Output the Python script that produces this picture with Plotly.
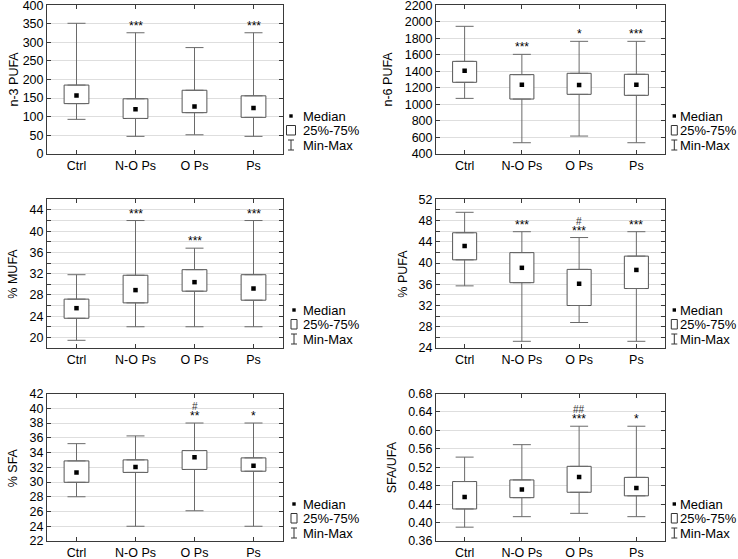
import plotly.graph_objects as go

W, H = 738, 559

categories = ["Ctrl", "N-O Ps", "O Ps", "Ps"]

# n-3 PUFA
n3_min = [92.6, 46.7, 51.0, 46.7]
n3_q1 = [135.0, 95.0, 110.6, 98.0]
n3_med = [157.0, 119.6, 127.0, 123.0]
n3_q3 = [185.0, 148.0, 171.0, 156.0]
n3_max = [351.5, 326.0, 286.0, 326.0]
n3_star = ["", "***", "", "***"]
n3_hash = ["", "", "", ""]

# n-6 PUFA
n6_min = [1071, 533, 614, 533]
n6_q1 = [1266, 1063, 1120, 1108]
n6_med = [1407, 1237, 1233, 1237]
n6_q3 = [1520, 1359, 1375, 1363]
n6_max = [1945, 1605, 1763, 1763]
n6_star = ["", "***", "*", "***"]
n6_hash = ["", "", "", ""]

# % MUFA
mufa_min = [19.45, 22.0, 22.0, 22.0]
mufa_q1 = [23.6, 26.5, 28.7, 27.0]
mufa_med = [25.5, 28.9, 30.4, 29.2]
mufa_q3 = [27.2, 31.7, 32.75, 31.8]
mufa_max = [31.8, 42.0, 36.8, 42.0]
mufa_star = ["", "***", "***", "***"]
mufa_hash = ["", "", "", ""]

# % PUFA
pufa_min = [35.7, 25.26, 28.8, 25.26]
pufa_q1 = [40.6, 36.3, 32.0, 35.2]
pufa_med = [43.2, 39.1, 36.1, 38.7]
pufa_q3 = [45.7, 41.96, 38.8, 41.3]
pufa_max = [49.55, 45.9, 44.8, 45.9]
pufa_star = ["", "***", "***", "***"]
pufa_hash = ["", "", "#", ""]

# % SFA
sfa_min = [28.0, 24.0, 26.1, 24.0]
sfa_q1 = [29.96, 31.3, 31.7, 31.46]
sfa_med = [31.3, 32.05, 33.36, 32.2]
sfa_q3 = [32.86, 33.0, 34.26, 33.27]
sfa_max = [35.2, 36.25, 38.0, 38.0]
sfa_star = ["", "", "**", "*"]
sfa_hash = ["", "", "#", ""]

# SFA/UFA
ratio_min = [0.390, 0.4128, 0.420, 0.4128]
ratio_q1 = [0.4295, 0.454, 0.4657, 0.458]
ratio_med = [0.4555, 0.4715, 0.499, 0.475]
ratio_q3 = [0.489, 0.4925, 0.522, 0.498]
ratio_max = [0.542, 0.569, 0.609, 0.609]
ratio_star = ["", "", "***", "*"]
ratio_hash = ["", "", "##", ""]

legend_labels = ["Median", "25%-75%", "Min-Max"]

panels = [
    dict(title="n-3 PUFA", mn=n3_min, q1=n3_q1, med=n3_med, q3=n3_q3, mx=n3_max,
         star=n3_star, hsh=n3_hash, rng=[0, 400], dtick=50, minor=None, fmt=""),
    dict(title="n-6 PUFA", mn=n6_min, q1=n6_q1, med=n6_med, q3=n6_q3, mx=n6_max,
         star=n6_star, hsh=n6_hash, rng=[400, 2200], dtick=200, minor=None, fmt=""),
    dict(title="% MUFA", mn=mufa_min, q1=mufa_q1, med=mufa_med, q3=mufa_q3, mx=mufa_max,
         star=mufa_star, hsh=mufa_hash, rng=[18, 46], dtick=4, minor=2, fmt=""),
    dict(title="% PUFA", mn=pufa_min, q1=pufa_q1, med=pufa_med, q3=pufa_q3, mx=pufa_max,
         star=pufa_star, hsh=pufa_hash, rng=[24, 52], dtick=4, minor=2, fmt=""),
    dict(title="% SFA", mn=sfa_min, q1=sfa_q1, med=sfa_med, q3=sfa_q3, mx=sfa_max,
         star=sfa_star, hsh=sfa_hash, rng=[22, 42], dtick=2, minor=None, fmt=""),
    dict(title="SFA/UFA", mn=ratio_min, q1=ratio_q1, med=ratio_med, q3=ratio_q3, mx=ratio_max,
         star=ratio_star, hsh=ratio_hash, rng=[0.36, 0.68], dtick=0.04, minor=None, fmt=".2f"),
]

# layout in pixels (left, right, top, bottom) of each plot area
areas = [
    (47, 283, 5.3, 153.7), (436, 665, 5.3, 153.7),
    (47, 283, 199.3, 348), (436, 665, 199.3, 348),
    (47, 283, 393.5, 541), (436, 665, 393.5, 541),
]
# x centre (px) of each rotated y-axis title
title_x = [13, 387, 13, 403, 13, 392]
# legend: icon centre x, text x, box icon half width, median row y
legends = [
    (291, 300.5, 4.5, 116), (674.3, 678, 3, 116),
    (294, 300.5, 3, 310), (674.3, 678, 3, 310),
    (294, 300.5, 3, 504), (674.3, 678, 3, 504),
]

FONT = "Arial, Liberation Sans, sans-serif"
BOXLINE = "#555555"
WHISK = "#6a6a6a"
GRID = "#dedede"
FRAME = "#3a3a3a"


def px(x):
    return x / W


def py(y):
    return 1 - y / H


fig = go.Figure()
layout = {}
shapes = []
annotations = []

for i, p in enumerate(panels):
    n = i + 1
    xa = "x" if n == 1 else f"x{n}"
    ya = "y" if n == 1 else f"y{n}"
    xk = "xaxis" if n == 1 else f"xaxis{n}"
    yk = "yaxis" if n == 1 else f"yaxis{n}"
    l, r, t, b = areas[i]

    height = [hi - lo for hi, lo in zip(p["q3"], p["q1"])]
    fig.add_trace(go.Bar(x=categories, y=height, base=p["q1"], width=0.42,
                         marker=dict(color="white", line=dict(color=BOXLINE, width=1)),
                         xaxis=xa, yaxis=ya, showlegend=False))
    up = [hi - q for hi, q in zip(p["mx"], p["q3"])]
    dn = [q - lo for q, lo in zip(p["q1"], p["mn"])]
    fig.add_trace(go.Scatter(x=categories, y=p["q3"], mode="markers",
                             marker=dict(size=1, opacity=0),
                             error_y=dict(type="data", symmetric=False, array=up,
                                          arrayminus=[0] * 4, width=9, thickness=1,
                                          color=WHISK),
                             xaxis=xa, yaxis=ya, showlegend=False))
    fig.add_trace(go.Scatter(x=categories, y=p["q1"], mode="markers",
                             marker=dict(size=1, opacity=0),
                             error_y=dict(type="data", symmetric=False, array=[0] * 4,
                                          arrayminus=dn, width=9, thickness=1,
                                          color=WHISK),
                             xaxis=xa, yaxis=ya, showlegend=False))
    fig.add_trace(go.Scatter(x=categories, y=p["med"], mode="markers",
                             marker=dict(symbol="square", size=4.5, color="black"),
                             xaxis=xa, yaxis=ya, showlegend=False))

    yaxis = dict(domain=[py(b), py(t)], range=p["rng"], dtick=p["dtick"], tick0=0,
                 anchor=xa, showline=True, linecolor=FRAME, linewidth=1, mirror="allticks",
                 ticks="inside", ticklen=4, tickcolor=FRAME, showgrid=True, gridcolor=GRID,
                 gridwidth=1, zeroline=False, tickfont=dict(size=12.5, color="black"),
                 tickformat=p["fmt"], fixedrange=True, automargin=False,
                 ticklabeloverflow="allow")
    if p["minor"]:
        yaxis["minor"] = dict(dtick=p["minor"], tick0=0, showgrid=True, gridcolor=GRID,
                              ticks="inside", ticklen=4, tickcolor=FRAME)
    layout[yk] = yaxis
    layout[xk] = dict(domain=[px(l), px(r)], range=[-0.5, 3.5], type="category",
                      anchor=ya, showline=True, linecolor=FRAME, linewidth=1,
                      mirror="allticks", ticks="inside", ticklen=4, tickcolor=FRAME,
                      showgrid=False, tickfont=dict(size=12.5, color="black"),
                      fixedrange=True, automargin=False, ticklabeloverflow="allow")

    # y-axis title
    annotations.append(dict(x=px(title_x[i]), y=py((t + b) / 2), xref="paper", yref="paper",
                            text=p["title"], textangle=-90, showarrow=False,
                            xanchor="center", yanchor="middle",
                            font=dict(size=12.5, color="black", family=FONT)))

    for c, s, h, m in zip(categories, p["star"], p["hsh"], p["mx"]):
        if s:
            annotations.append(dict(x=c, y=m, xref=xa, yref=ya, text=s, showarrow=False,
                                    yanchor="bottom", yshift=-2,
                                    font=dict(size=12, color="black", family=FONT)))
        if h:
            annotations.append(dict(x=c, y=m, xref=xa, yref=ya, text=h, showarrow=False,
                                    yanchor="bottom", yshift=9,
                                    font=dict(size=10, color="#333", family=FONT)))

    # legend
    ix, tx, bw, y0 = legends[i]
    ys = [y0, y0 + 14.5, y0 + 29]
    shapes.append(dict(type="rect", xref="paper", yref="paper",
                       x0=px(ix - 1.7), x1=px(ix + 1.7), y0=py(ys[0] - 1.7), y1=py(ys[0] + 1.7),
                       fillcolor="black", line=dict(width=0)))
    shapes.append(dict(type="rect", xref="paper", yref="paper",
                       x0=px(ix - bw), x1=px(ix + bw), y0=py(ys[1] - 5), y1=py(ys[1] + 4.5),
                       fillcolor="white", line=dict(color="#333", width=1)))
    shapes.append(dict(type="line", xref="paper", yref="paper",
                       x0=px(ix), x1=px(ix), y0=py(ys[2] - 5), y1=py(ys[2] + 5),
                       line=dict(color="#333", width=1)))
    for yy in (ys[2] - 5, ys[2] + 5):
        shapes.append(dict(type="line", xref="paper", yref="paper",
                           x0=px(ix - 3), x1=px(ix + 3), y0=py(yy), y1=py(yy),
                           line=dict(color="#333", width=1)))
    for lab, yy in zip(legend_labels, ys):
        annotations.append(dict(x=px(tx), y=py(yy), xref="paper", yref="paper", text=lab,
                                showarrow=False, xanchor="left", yanchor="middle",
                                font=dict(size=13, color="black", family=FONT)))

fig.update_layout(
    width=W, height=H, margin=dict(l=0, r=0, t=0, b=0, pad=0, autoexpand=False),
    paper_bgcolor="white", plot_bgcolor="white",
    font=dict(family=FONT, size=12.5, color="black"),
    showlegend=False, barmode="overlay",
    shapes=shapes, annotations=annotations, **layout,
)

fig.write_html("out.html", config={"displayModeBar": False},
               post_script="document.body.style.margin='0';document.body.style.overflow='hidden';")
